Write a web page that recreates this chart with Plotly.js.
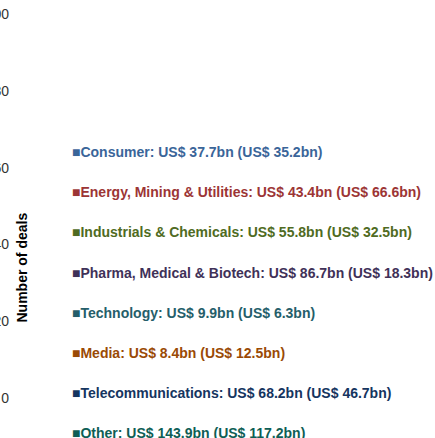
<!DOCTYPE html>
<html>
<head>
<meta charset="utf-8">
<script src="https://cdn.plot.ly/plotly-3.0.1.min.js"></script>
<style>html,body{margin:0;padding:0;background:#fff;}#chart{width:435px;height:438px;}</style>
</head>
<body>
<div id="chart"></div>
<script>
// Data
const sectors = ["Consumer", "Energy, Mining & Utilities", "Industrials & Chemicals",
  "Pharma, Medical & Biotech", "Technology", "Media", "Telecommunications", "Other"];
const valueCurrent = [37.7, 43.4, 55.8, 86.7, 9.9, 8.4, 68.2, 143.9];   // US$ bn
const valuePrevious = [35.2, 66.6, 32.5, 18.3, 6.3, 12.5, 46.7, 117.2]; // US$ bn
const sectorColors = ["#3a6599", "#9c3535", "#4f6b22", "#3f3158", "#255e6a", "#9a4a05", "#15355f", "#0e5e55"];
const dealTicks = [0, 20, 40, 60, 80, 100];
const dealTickText = ["0", "20", "40", "60", "80", "100"];
const yTitle = "Number of deals";

const traces = sectors.map((s, i) => ({
  type: "scatter",
  mode: "markers",
  x: [valueCurrent[i]],
  y: [valuePrevious[i]],
  name: '<span style="color:' + sectorColors[i] + '"><b>\u25A0' + s + ': US$ ' +
        valueCurrent[i].toFixed(1) + 'bn (US$ ' + valuePrevious[i].toFixed(1) + 'bn)</b></span>',
  legendgroup: "g" + i,
  marker: { color: "rgba(0,0,0,0)", size: 2 },
  hoverinfo: "skip"
}));

const L = 10, T = 14, B = 40;
const PW = 435 - L, PH = 438 - T - B;

const layout = {
  width: 435, height: 438,
  margin: { l: L, r: 0, t: T, b: B, pad: 0, autoexpand: false },
  paper_bgcolor: "#ffffff", plot_bgcolor: "rgba(0,0,0,0)",
  font: { family: "Arial, 'Liberation Sans', sans-serif", size: 14, color: "#333333" },
  showlegend: true,
  legend: {
    xref: "paper", yref: "paper",
    x: (32 - L) / PW, y: 1 - (136 - T) / PH, xanchor: "left", yanchor: "top",
    bgcolor: "rgba(0,0,0,0)", borderwidth: 0,
    traceorder: "grouped", tracegroupgap: 19, maxheight: 420,
    font: { family: "Arial, 'Liberation Sans', sans-serif", size: 14 }
  },
  xaxis: { visible: false, range: [-20, -10], fixedrange: true },
  yaxis: {
    range: [0, 100], tickvals: dealTicks, ticktext: dealTickText,
    showgrid: false, zeroline: false, showline: false, ticks: "",
    tickfont: { family: "Arial, 'Liberation Sans', sans-serif", size: 14, color: "#333333" },
    automargin: false
  },
  annotations: [{
    text: "<b>" + yTitle + "</b>", textangle: -90,
    xref: "paper", yref: "paper",
    x: (21.5 - L) / PW, y: 1 - (268 - T) / PH,
    xanchor: "center", yanchor: "middle", showarrow: false,
    font: { family: "Arial, 'Liberation Sans', sans-serif", size: 14, color: "#000000" }
  }]
};

Plotly.newPlot("chart", traces, layout, { displayModeBar: false, staticPlot: true });
</script>
</body>
</html>
